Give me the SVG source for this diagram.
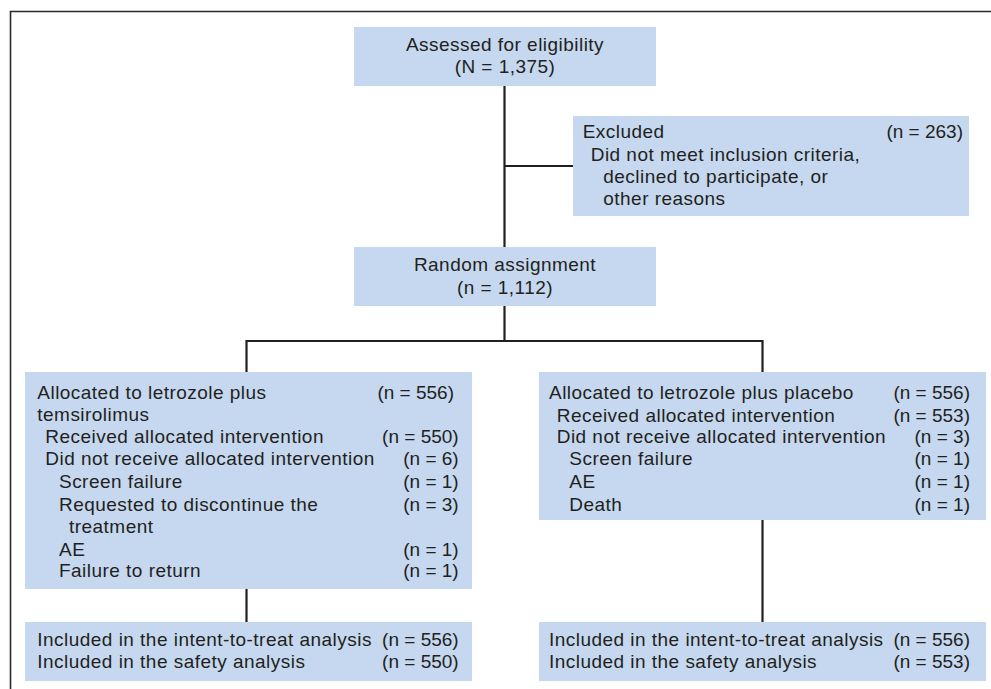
<svg xmlns="http://www.w3.org/2000/svg" width="991" height="689" viewBox="0 0 991 689">
<style>
.box{fill:#C5D8EF;}
text{font-family:"Liberation Sans",Arial,sans-serif;font-size:19px;fill:#231F20;letter-spacing:0.47px;}
.c{text-anchor:middle;}
.r{text-anchor:end;letter-spacing:0;}
.ln{stroke:#231F20;stroke-width:2.2;fill:none;}
.frame{stroke:#2a2a2a;stroke-width:1.6;fill:none;}
</style>
<path class="frame" d="M10.5,689 V11.5 H991"/>
<g id="connectors">
<path class="ln" d="M504.5,86 V247"/>
<path class="ln" d="M504.5,166 H573"/>
<path class="ln" d="M504.5,306 V341 M246.5,341 H762.5 M246.5,340 V372 M762.5,340 V372"/>
<path class="ln" d="M246.5,589 V622"/>
<path class="ln" d="M762.5,520 V622"/>
</g>
<g id="assessed">
<rect class="box" x="354" y="27" width="302" height="59"/>
<text class="c" x="505" y="51">Assessed for eligibility</text>
<text class="c" x="505" y="73">(N = 1,375)</text>
</g>
<g id="excluded">
<rect class="box" x="573" y="116" width="396" height="100"/>
<text x="582.7" y="138">Excluded</text>
<text class="r" x="963" y="138">(n = 263)</text>
<text x="590.7" y="161">Did not meet inclusion criteria,</text>
<text x="603.3" y="182.5">declined to participate, or</text>
<text x="603.3" y="205">other reasons</text>
</g>
<g id="random">
<rect class="box" x="354" y="247" width="302" height="59"/>
<text class="c" x="505" y="271">Random assignment</text>
<text class="c" x="505" y="293.5">(n = 1,112)</text>
</g>
<g id="arm-temsirolimus">
<rect class="box" x="25" y="372" width="447" height="217"/>
<text x="37.3" y="399">Allocated to letrozole plus</text>
<text class="r" x="454" y="399">(n = 556)</text>
<text x="37.3" y="421">temsirolimus</text>
<text x="45.3" y="443.3">Received allocated intervention</text>
<text class="r" x="458.7" y="443.3">(n = 550)</text>
<text x="45.3" y="465">Did not receive allocated intervention</text>
<text class="r" x="458.7" y="465">(n = 6)</text>
<text x="59" y="488.3">Screen failure</text>
<text class="r" x="458.7" y="488.3">(n = 1)</text>
<text x="59" y="510.7">Requested to discontinue the</text>
<text class="r" x="458.7" y="510.7">(n = 3)</text>
<text x="69" y="533.3">treatment</text>
<text x="59" y="555.7">AE</text>
<text class="r" x="458.7" y="555.7">(n = 1)</text>
<text x="59" y="577.3">Failure to return</text>
<text class="r" x="458.7" y="577.3">(n = 1)</text>
</g>
<g id="arm-placebo">
<rect class="box" x="539" y="372" width="447" height="148"/>
<text x="549" y="399">Allocated to letrozole plus placebo</text>
<text class="r" x="970" y="399">(n = 556)</text>
<text x="556.7" y="421.7">Received allocated intervention</text>
<text class="r" x="970" y="421.7">(n = 553)</text>
<text x="556.7" y="443.3">Did not receive allocated intervention</text>
<text class="r" x="970" y="443.3">(n = 3)</text>
<text x="569.3" y="465">Screen failure</text>
<text class="r" x="970" y="465">(n = 1)</text>
<text x="569.3" y="488.3">AE</text>
<text class="r" x="970" y="488.3">(n = 1)</text>
<text x="569.3" y="510.7">Death</text>
<text class="r" x="970" y="510.7">(n = 1)</text>
</g>
<g id="analysis-temsirolimus">
<rect class="box" x="25" y="622" width="447" height="59"/>
<text x="37.3" y="645.7">Included in the intent-to-treat analysis</text>
<text class="r" x="458.7" y="645.7">(n = 556)</text>
<text x="37.3" y="667.7">Included in the safety analysis</text>
<text class="r" x="458.7" y="667.7">(n = 550)</text>
</g>
<g id="analysis-placebo">
<rect class="box" x="539" y="622" width="447" height="59"/>
<text x="549" y="645.7">Included in the intent-to-treat analysis</text>
<text class="r" x="970" y="645.7">(n = 556)</text>
<text x="549" y="667.7">Included in the safety analysis</text>
<text class="r" x="970" y="667.7">(n = 553)</text>
</g>
</svg>
